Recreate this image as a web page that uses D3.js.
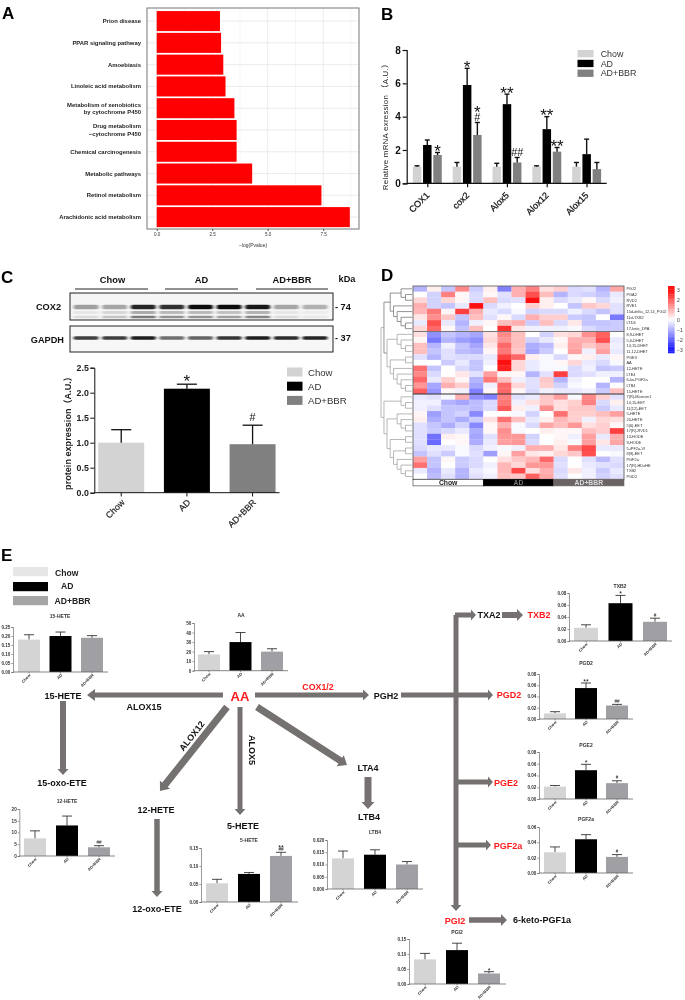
<!DOCTYPE html>
<html><head><meta charset="utf-8">
<script src="https://cdn.jsdelivr.net/npm/d3@7"></script>
<style>
html,body{margin:0;padding:0;background:#fff}
svg{display:block;filter:blur(.45px)}
text{font-family:"Liberation Sans",Arial,sans-serif}
</style></head><body>
<svg id="c" width="685" height="1000"></svg>
<script>
// ---------- DATA ----------
const groups = ["Chow","AD","AD+BBR"];
const pathways = ["Prion disease","PPAR signaling pathway","Amoebiasis","Linoleic acid metabolism",
  "Metabolism of xenobiotics|by cytochrome P450","Drug metabolism|\u2212cytochrome P450","Chemical carcinogenesis",
  "Metabolic pathways","Retinol metabolism","Arachidonic acid metabolism"];
const pathwayValues = [2.85,2.9,3.0,3.1,3.5,3.6,3.6,4.3,7.42,8.7];

const genes = ["COX1","cox2","Alox5","Alox12","Alox15"];
const mrnaChow = [1.0,1.0,1.0,1.0,1.0];
const mrnaAD   = [2.3,5.9,4.75,3.25,1.75];
const mrnaBBR  = [1.7,2.9,1.25,1.9,0.85];
const mrnaChowErr = [0.05,0.25,0.2,0.05,0.25];
const mrnaADErr   = [0.3,1.0,0.6,0.75,0.9];
const mrnaBBRErr  = [0.15,0.75,0.3,0.25,0.4];
const mrnaADMarks  = [[],["*"],["**"],["**"],[]];
const mrnaBBRMarks = [["*"],["#","*"],["##"],["**"],[]];

const proteinValues = [1.0,2.08,0.97];
const proteinErr = [0.26,0.09,0.38];
const proteinMarks = [[],["*"],["#"]];

const cox2Main  = [.35,.32,.85,.8,.95,.95,.9,.32,.28];
const cox2Lower = [.1,.2,.5,.4,.4,.35,.45,.1,.05];
const gapdhBand = [.75,.75,.88,.55,.6,.78,.88,.82,.85];

const metabolites = ["PGJ2","PGA2","RVD2","RVE1","15d-delta_12,14_PGJ2","11d-TXB2","LTD4","17-keto_DPA",
 "8,9-DHET","5,6-DHET","14,15-DHET","11,12-DHET","PGE3","AA","12-HETE","LTE4","6-ke-PGF2a","LTB4","15-HETE",
 "7(R)-Maresin1","14,15-EET","11(12)-EET","5-HETE","20-HETE","5(6)-EET","17(R)-RVD1","13-HODE","9-HODE",
 "5-iPF2a-VI","8(9)-EET","PGF2a","17(R)-HDoHE","TXB2","PGD2"];
const heat = [
[-1,.2,-.8,1.5,-.7,.2,-1.7,1,1.6,.4,.6,-.5,-.4,-1,1.1],
[0,-.6,1.6,.1,-.5,.1,-.4,1,2.2,.8,-1,-.5,-.6,-.8,-.3],
[.5,-.6,.5,.1,-.5,.8,-.5,-.4,3,.2,-.5,-.3,.1,-.5,-.2],
[1,-.6,-.8,-.3,3,-.5,-.2,0,.6,.2,0,-.8,.7,.5,-.4],
[.9,1.7,.1,2.4,1,-.3,-.5,-.1,-.6,-.5,-.5,-.2,-.5,-.8,-.4],
[.3,1.4,.7,-.8,.8,-.4,.1,-.5,1,.6,.6,-.7,-.8,0,-1.8],
[-.3,2.2,-.3,-1,-.2,.1,.8,1,-.7,.8,-.5,.3,-.8,-.8,-.7],
[.5,1.9,.1,-.8,.8,0,2.6,.3,-.2,-.2,-.2,-.1,-.5,-.7,-.7],
[.4,-1.5,-.8,-1,-1.2,.4,1.5,.8,0,-.6,.4,.5,1.4,2,0],
[.1,-1.8,-1,-1.3,-1.5,.5,1.3,.8,-.6,-.3,.1,1,1,2.2,-.3],
[.8,-1,-.2,-.8,-1.2,.3,1.9,.8,-1.1,-.9,.2,1.1,.7,1,-.2],
[.8,-.8,-.4,-.9,-1,.1,1.7,.7,-1.2,-.7,0,1.2,-.2,1.2,-.3],
[-.4,-1,-.4,-.5,-.5,-.3,2.4,1.9,.2,-.1,-.5,.1,.2,-.3,.1],
[0,0,-.7,-.3,-.8,-.2,3,.5,-.3,-.1,.1,.5,-.3,-.5,-.1],
[1.8,-.8,0,-.5,-.8,0,2.8,.5,-.3,-.1,-.1,-.5,-.2,-.8,-.7],
[1.5,-.5,0,.3,-.4,1.2,.1,.1,-1,-.4,2.4,-.5,-.4,-.2,-.2],
[1.9,-.3,.6,.1,-1,1.7,.8,-.2,-.4,.7,-1,-.2,0,0,-1],
[1.3,-1.2,1,.6,-1.2,-.2,1.9,.5,-.4,.6,-.6,-.1,0,-1,0],
[2,-1.4,.1,-.2,-1.7,.1,1.9,.1,-.5,-.2,-.3,-.3,-.2,-.7,.8],
[-.3,-.4,-.1,1,-1.5,-1.7,1.6,-.4,-.3,.7,1.2,-.1,1.5,.6,-.4],
[-.2,-.2,-1,-1.2,-.9,-.5,1.7,-.2,.4,.7,.4,.6,1.6,-.5,.2],
[-.2,-.4,-.8,-.8,-.9,-.5,2.1,.2,-.2,1.4,.4,.7,.7,-.7,-.3],
[.1,-1.3,-.8,-.6,-1.6,0,0,-.1,-.6,0,1.8,.6,.6,.8,1.2],
[.2,-1.1,-.8,-1.1,-.7,.4,1.8,.8,-.3,.2,.9,.6,-.2,.5,.4],
[-.4,-.8,-1.1,-.6,-1.6,.1,1,-.1,-.5,1.1,.8,1.3,.4,.6,.1],
[-.4,-.7,-.5,-.3,-1.1,.1,1.4,-.1,0,.2,.1,.1,.8,.6,2.4],
[-.4,-1.9,.2,.1,-1.2,-.4,1.3,1.3,-.6,0,.1,-.2,1.2,-.3,1],
[-.4,-2,0,.1,-1.1,-.3,1.2,1.3,-.5,0,.2,-.1,1.2,.3,1.1],
[-.5,-.3,-.3,-.1,-.5,-.2,-.1,-.2,1,1,.3,1.6,2.3,-.3,-.3],
[-.8,-.4,-.7,-.1,-.4,-1.3,.1,1.2,.3,.2,.5,.7,2.2,0,-.1],
[1.2,-.8,.1,-.7,-.5,0,.4,.7,.9,1.9,-.5,0,-.4,-.9,-.4],
[1.8,-.8,0,-.7,-.5,-.2,.9,.5,1.3,1.3,-.4,0,-.3,-.4,-.5],
[-.3,-1,-.3,-1,-.3,-.1,.9,2.3,.4,1,-.5,.3,-.2,-.7,-.3],
[0,-.9,-.4,-1,-.4,-.2,.8,.7,2,1.1,-.4,0,-.2,-.6,-.4]];
const dendroTop = [[0,[1,2]],[3,[4,[5,[6,7]]]]];
const dendroMid = [[8,[9,[10,11]]],[[12,13],[14,[15,[16,[17,18]]]]]];
const dendroLow = [[19,[20,21]],[[22,[23,[24,25]]],[[26,27],[[28,29],[30,[31,[32,33]]]]]]];
const dendrogram = [[dendroTop,dendroMid],dendroLow];
const colorTicks = [3,2,1,0,-1,-2,-3];

const hete15 = {title:"15-HETE",values:[.18,.20,.19],errs:[.027,.022,.012],ticks:[0,.05,.10,.15,.20,.25],fmt:".2f",marks:[[],[],[]]};
const aaChart = {title:"AA",values:[17,30,20],errs:[3,10,3],ticks:[0,10,20,30,40,50],fmt:"d",marks:[[],[],[]]};
const hete12 = {title:"12-HETE",values:[7.5,13,3.7],errs:[3.2,4,.7],ticks:[0,5,10,15,20],fmt:"d",marks:[[],[],["##"]]};
const hete5  = {title:"5-HETE",values:[.052,.078,.128],errs:[.011,.004,.01],ticks:[0,.05,.10,.15],fmt:".2f",marks:[[],[],["##","**"]]};
const ltb4   = {title:"LTB4",values:[.0125,.014,.010],errs:[.003,.002,.0012],ticks:[0,.005,.01,.015,.02],fmt:".3f",marks:[[],[],[]]};
const txb2   = {title:"TXB2",values:[.022,.063,.032],errs:[.005,.013,.006],ticks:[0,.02,.04,.06,.08],fmt:".2f",marks:[[],["*"],["#"]]};
const pgd2   = {title:"PGD2",values:[.01,.055,.024],errs:[.003,.009,.002],ticks:[0,.02,.04,.06,.08],fmt:".2f",marks:[[],["**"],["##"]]};
const pge2   = {title:"PGE2",values:[.021,.049,.027],errs:[.002,.01,.004],ticks:[0,.02,.04,.06,.08],fmt:".2f",marks:[[],["*"],["#"]]};
const pgf2a  = {title:"PGF2a",values:[.027,.044,.021],errs:[.007,.006,.003],ticks:[0,.02,.04,.06],fmt:".2f",marks:[[],[],["#"]]};
const pgi2   = {title:"PGI2",values:[.082,.113,.035],errs:[.02,.023,.006],ticks:[0,.05,.10,.15],fmt:".2f",marks:[[],[],["*"]]};

// ---------- LAYOUT ----------
const svg = d3.select("#c");
const colors3 = ["#d3d3d3","#000000","#808080"];
const colorsE = ["#d4d4d4","#000000","#a09fa3"];
const GREY="#767171";

function txt(g,x,y,s,o={}){
  const t=g.append("text").attr("x",x).attr("y",y).text(s)
    .attr("font-size",o.size||9).attr("font-weight",o.bold===false?"normal":"bold")
    .attr("fill",o.fill||"#111").attr("text-anchor",o.anchor||"middle");
  if(o.center!==false) t.attr("dominant-baseline","central");
  if(o.rot!==undefined) t.attr("transform",`rotate(${o.rot} ${x} ${y})`);
  return t;
}
// Significance marks: all lines of one bar share one text element
function marks(g,x,yTop,lines,o){
  if(!lines.length) return;
  const t=g.append("text").attr("text-anchor","middle").attr("fill","#111");
  let c=yTop-o.gap;
  lines.forEach(m=>{
    const star=m[0]==="*", sz=star?o.star:o.hash;
    t.append("tspan").attr("x",x).attr("y",c+(star?.58:.35)*sz).attr("font-size",sz).text(m);
    c-=o.step;
  });
}

// panel letters
[["A",2,13],["B",381,14],["C",1,277],["D",381,275],["E",1,555]].forEach(d=>
  txt(svg,d[1],d[2],d[0],{size:17,anchor:"start",fill:"#000"}));

// ---------- Panel A
(function(){
  const g=svg.append("g");
  const x=d3.scaleLinear().domain([0,2.5]).range([156.7,212.2]);
  const y=d3.scaleBand().domain(pathways).range([10.2,228]).paddingInner(.08).paddingOuter(.04);
  const L=147,R=359,T=8,B=229;
  [1.25,3.75,6.25,8.75].forEach(v=>g.append("line").attr("x1",x(v)).attr("x2",x(v)).attr("y1",T).attr("y2",B).attr("stroke","#f2f2f2").attr("stroke-width",.6));
  [0,2.5,5,7.5].forEach(v=>g.append("line").attr("x1",x(v)).attr("x2",x(v)).attr("y1",T).attr("y2",B).attr("stroke","#e6e6e6").attr("stroke-width",.8));
  pathways.forEach(p=>g.append("line").attr("x1",L).attr("x2",R).attr("y1",y(p)+y.bandwidth()/2).attr("y2",y(p)+y.bandwidth()/2).attr("stroke","#e6e6e6").attr("stroke-width",.8));
  g.selectAll(".b").data(pathways).join("rect").attr("x",x(0)).attr("y",d=>y(d))
    .attr("width",(d,i)=>x(pathwayValues[i])-x(0)).attr("height",y.bandwidth()).attr("fill","#ff0000");
  g.append("rect").attr("x",L).attr("y",T).attr("width",R-L).attr("height",B-T).attr("fill","none").attr("stroke","#777").attr("stroke-width",1);
  pathways.forEach(p=>{
    const c=y(p)+y.bandwidth()/2, parts=p.split("|");
    parts.forEach((s,i)=>txt(g,141,c+(parts.length>1?(i-.5)*7.4:0),s,{size:5.9,anchor:"end",fill:"#222"}));
  });
  const axis=d3.axisBottom(x).tickValues([0,2.5,5,7.5]).tickFormat(d3.format(".1f")).tickSize(2).tickPadding(2);
  const a=g.append("g").attr("transform",`translate(0,${B})`).call(axis);
  a.select(".domain").remove();
  a.selectAll("line").attr("stroke","#555");
  a.selectAll("text").attr("font-size",4.6).attr("fill","#333");
  txt(g,253,245,"\u2212log(Pvalue)",{size:5,bold:false,fill:"#333"});
})();

// ---------- Panel B
(function(){
  const g=svg.append("g");
  const x0=d3.scaleBand().domain(genes).range([407.5,606.7]).paddingInner(0).paddingOuter(0);
  const x1=d3.scaleBand().domain(groups).range([3.6,36]).padding(.17);
  const y=d3.scaleLinear().domain([0,8]).range([183.3,50]);
  const series=[[mrnaChow,mrnaChowErr],[mrnaAD,mrnaADErr],[mrnaBBR,mrnaBBRErr]];
  series.forEach((s,k)=>{
    genes.forEach((c,i)=>{
      const gx=x0(c)+x1(groups[k]), w=x1.bandwidth(), cx=gx+w/2;
      const top=y(s[0][i]+s[1][i]);
      g.append("rect").attr("x",gx).attr("y",y(s[0][i])).attr("width",w).attr("height",y(0)-y(s[0][i])).attr("fill",colors3[k]);
      g.append("line").attr("x1",cx).attr("x2",cx).attr("y1",y(s[0][i])).attr("y2",top).attr("stroke","#111").attr("stroke-width",1.4);
      g.append("line").attr("x1",cx-2.5).attr("x2",cx+2.5).attr("y1",top).attr("y2",top).attr("stroke","#111").attr("stroke-width",1.4);
      const m=k===1?mrnaADMarks[i]:k===2?mrnaBBRMarks[i]:[];
      marks(g,cx,top,m,{gap:5.5,step:9,star:17,hash:10.8});
    });
  });
  const ya=d3.axisLeft(y).tickValues([0,2,4,6,8]).tickSize(4).tickPadding(2);
  const a=g.append("g").attr("transform","translate(406.7,0)").call(ya);
  a.selectAll("path,line").attr("stroke","#111").attr("stroke-width",1.2);
  a.selectAll("text").attr("font-size",10).attr("font-weight","bold").attr("fill","#111");
  const xa=d3.axisBottom(d3.scalePoint().domain(genes).range([427.3,586.5])).tickSize(4).tickFormat("");
  const b=g.append("g").attr("transform","translate(0,183.3)").call(xa);
  b.select(".domain").remove();
  b.selectAll("line").attr("stroke","#111").attr("stroke-width",1.2);
  g.append("line").attr("x1",406.7).attr("x2",606.7).attr("y1",183.3).attr("y2",183.3).attr("stroke","#111").attr("stroke-width",1.2);
  const pos=d3.scalePoint().domain(genes).range([430,589]);
  genes.forEach(c=>txt(g,pos(c),196,c,{size:9,bold:false,anchor:"end",rot:-45,center:false,fill:"#111"}).attr("stroke","#111").attr("stroke-width",.25));
  txt(g,385,125,"Relative mRNA exression \uFF08A.U.\uFF09",{size:7.9,bold:false,rot:-90,fill:"#222"}).attr("letter-spacing",.25).style("font-family",'"Liberation Sans","Noto Sans CJK SC",sans-serif');
  groups.forEach((n,i)=>{
    g.append("rect").attr("x",577.5).attr("y",50+i*9.8).attr("width",16).attr("height",7.3).attr("fill",colors3[i]);
    txt(g,600.7,53.7+i*9.8,n,{size:8.9,bold:false,anchor:"start",fill:"#333"});
  });
})();

// ---------- Panel C
(function(){
  const g=svg.append("g");
  const defs=svg.append("defs");
  const f=defs.append("filter").attr("id","bandblur").attr("x","-30%").attr("y","-100%").attr("width","160%").attr("height","300%");
  f.append("feGaussianBlur").attr("stdDeviation","1.5 .7");
  groups.forEach((n,i)=>{
    const s=[[75,148],[165,238],[256,328]][i];
    txt(g,(s[0]+s[1])/2+(i==0?1:0),280,n,{size:9.3,fill:"#111"});
    g.append("line").attr("x1",s[0]).attr("x2",s[1]).attr("y1",289).attr("y2",289).attr("stroke","#222").attr("stroke-width",1);
  });
  txt(g,347,279,"kDa",{size:9.2,fill:"#111"});
  txt(g,61,307,"COX2",{size:9.2,anchor:"end"});
  txt(g,64,340,"GAPDH",{size:9.2,anchor:"end"});
  txt(g,335,307,"- 74",{size:9.2,anchor:"start"});
  txt(g,335,338,"- 37",{size:9.2,anchor:"start"});
  const lanes=d3.scaleBand().domain(d3.range(9)).range([70,331]).padding(.12);
  const blot=(y,h,bg)=>g.append("rect").attr("x",70).attr("y",y).attr("width",263).attr("height",h).attr("fill",bg);
  blot(293,27,"#f5f5f5"); blot(326,26,"#f7f7f7");
  const bands=g.append("g").attr("filter","url(#bandblur)");
  const draw=(arr,yc,h)=>arr.forEach((v,i)=>bands.append("rect").attr("x",lanes(i)).attr("y",yc-h/2).attr("width",lanes.bandwidth()).attr("height",h).attr("rx",h/2).attr("fill","#000").attr("opacity",v));
  draw(cox2Main,307,4.5); draw(cox2Lower,317,2.4); draw(cox2Lower.map(d=>d*.6),312.5,2.8); draw(gapdhBand,338,3.4);
  [[293,27],[326,26]].forEach(d=>g.append("rect").attr("x",70).attr("y",d[0]).attr("width",263).attr("height",d[1]).attr("fill","none").attr("stroke","#222").attr("stroke-width",1));
  const x=d3.scaleBand().domain(groups).range([94.3,279.5]).paddingInner(.3).paddingOuter(.06);
  const y=d3.scaleLinear().domain([0,2.5]).range([492.7,367.7]);
  groups.forEach((n,i)=>{
    const w=x.bandwidth(),cx=x(n)+w/2,top=y(proteinValues[i]+proteinErr[i]);
    g.append("rect").attr("x",x(n)).attr("y",y(proteinValues[i])).attr("width",w).attr("height",y(0)-y(proteinValues[i])).attr("fill",colors3[i]);
    g.append("line").attr("x1",cx).attr("x2",cx).attr("y1",y(proteinValues[i])).attr("y2",top).attr("stroke","#111").attr("stroke-width",1.3);
    g.append("line").attr("x1",cx-10).attr("x2",cx+10).attr("y1",top).attr("y2",top).attr("stroke","#111").attr("stroke-width",1.3);
    marks(g,cx,top,proteinMarks[i],{gap:7.5,step:9,star:17,hash:10.8});
    g.append("line").attr("x1",cx).attr("x2",cx).attr("y1",492.7).attr("y2",496.5).attr("stroke","#111").attr("stroke-width",1);
    txt(g,cx+4,503,n,{size:8.8,anchor:"end",rot:-45,center:false,fill:"#222",bold:false}).attr("stroke","#222").attr("stroke-width",.2);
  });
  const a=g.append("g").attr("transform","translate(94.3,0)").call(d3.axisLeft(y).tickValues([0,.5,1,1.5,2,2.5]).tickFormat(d3.format(".1f")).tickSize(4).tickPadding(1.5));
  a.selectAll("path,line").attr("stroke","#111");
  a.selectAll("text").attr("font-size",8.8).attr("font-weight","bold").attr("fill","#222");
  g.append("line").attr("x1",94.3).attr("x2",279.5).attr("y1",492.7).attr("y2",492.7).attr("stroke","#111");
  txt(g,68,431,"protein expression\uFF08A.U.\uFF09",{size:9.1,rot:-90,fill:"#222"}).style("font-family",'"Liberation Sans","Noto Sans CJK SC",sans-serif');
  groups.forEach((n,i)=>{
    g.append("rect").attr("x",287).attr("y",367.5+i*14.2).attr("width",15.5).attr("height",9).attr("fill",colors3[i]);
    txt(g,308,372+i*14.2,n,{size:9.6,bold:false,anchor:"start",fill:"#333"});
  });
})();

// ---------- Panel D
(function(){
  const g=svg.append("g");
  const X0=413,X1=624,Y0=286,Y1=479.3;
  const x=d3.scaleBand().domain(d3.range(15)).range([X0,X1]);
  const y=d3.scaleBand().domain(d3.range(metabolites.length)).range([Y0,Y1]);
  const col=d3.scaleLinear().domain([-3,0,3]).range(["#2020ff","#ffffff","#ff1010"]);
  g.selectAll("g.r").data(heat).join("g").attr("transform",(d,i)=>`translate(0,${y(i)})`)
    .selectAll("rect").data(d=>d).join("rect").attr("x",(d,j)=>x(j)).attr("width",x.bandwidth()+.2).attr("height",y.bandwidth()+.2).attr("fill",d=>col(d));
  [8,19].forEach(r=>g.append("line").attr("x1",X0).attr("x2",X1).attr("y1",y(r)).attr("y2",y(r)).attr("stroke",r==8?"#777":"#333").attr("stroke-width",1.1));
  g.append("rect").attr("x",X0).attr("y",Y0).attr("width",X1-X0).attr("height",Y1-Y0).attr("fill","none").attr("stroke","#666").attr("stroke-width",.9);
  metabolites.forEach((m,i)=>txt(g,626.5,y(i)+y.bandwidth()/2,m,{size:3.9,bold:false,anchor:"start",fill:"#333"}));
  const ann=[[0,5,"#ffffff","#222"],[5,10,"#000000","#777"],[10,15,"#6b6464","#ddd"]];
  ann.forEach((a,i)=>{
    const l=x(a[0]),r=a[1]==15?X1:x(a[1]);
    g.append("rect").attr("x",l).attr("y",Y1).attr("width",r-l).attr("height",6.6).attr("fill",a[2]).attr("stroke",i==0?"#333":a[2]).attr("stroke-width",.6);
    txt(g,(l+r)/2,Y1+3.4,groups[i],{size:6.8,fill:a[3]});
  });
  const root=d3.hierarchy(dendrogram,d=>Array.isArray(d)?d:null);
  const h=d3.scalePow().exponent(.75).domain([0,root.height]).range([412,381]);
  root.eachAfter(n=>{
    if(n.children) n.py=d3.mean([n.children[0].py,n.children[n.children.length-1].py]);
    else n.py=y(n.data)+y.bandwidth()/2;
    n.px=n.children?h(n.height):412;
  });
  const dg=g.append("g").attr("fill","none").attr("stroke-width",.7);
  root.descendants().filter(n=>n.children).forEach(n=>{
    const stroke=n.py<335?"#666":"#999";
    n.children.forEach(c=>dg.append("path").attr("stroke",stroke).attr("d",`M${n.px},${n.py}V${c.py}H${c.px}`));
  });
  const cy=d3.scaleLinear().domain([3,-3]).range([290,350]);
  const n=40,ss=d3.range(n).map(i=>3.4-6.8*i/(n-1));
  g.selectAll(".cb").data(ss).join("rect").attr("x",668).attr("width",6.6).attr("y",(d,i)=>286+i*67/n).attr("height",67/n+.3).attr("fill",d=>col(Math.max(-3,Math.min(3,d))));
  colorTicks.forEach(t=>txt(g,677,cy(t),t<0?"\u2212"+(-t):t,{size:5,bold:false,anchor:"start",fill:"#333"}));
})();

// ---------- Panel E: pathway
const arrows=[
 [223,695,87,695,5,12,8],[63,701,63,775,6,11,6],[255,695,369,695,5,11,6],
 [227,707,160,791,7,13,8],[240,707,240,815,5,11,6],[257,707,347,765,7,13,8],
 [368,777,368,809,7,13,7],[157,819,157,897,5.5,11,6],[401,695,493,695,5,11,5],
 [456,615,456,911,5,11,6],[455,615,476,615,5,11,5],[502,615,523,615,6,12,6],
 [457,782,493,782,5,11,5],[457,845,491,845,5,11,5],[469,920,507,920,5.5,12,6]];
const diagram=svg.append("g");
arrows.forEach(a=>{
  const [x1,y1,x2,y2,w,hw,hl]=a;
  const ang=Math.atan2(y2-y1,x2-x1)*180/Math.PI, len=Math.hypot(x2-x1,y2-y1);
  const line=d3.line();
  diagram.append("path").attr("fill",GREY).attr("transform",`translate(${x1},${y1}) rotate(${ang})`)
    .attr("d",line([[0,-w/2],[len-hl,-w/2],[len-hl,-hw/2],[len,0],[len-hl,hw/2],[len-hl,w/2],[0,w/2]])+"Z");
});
const nodes=[
 ["AA",240,696,13,"#ff1a1a",0],["COX1/2",318,687,8.8,"#ff1a1a",0],["PGH2",386,696,9,"#111",0],
 ["15-HETE",63,696,9,"#111",0],["ALOX15",144,707,9,"#111",0],["15-oxo-ETE",62,783,9,"#111",0],
 ["ALOX12",192,736,9,"#111",-52],["ALOX5",252,750,9,"#111",90],["12-HETE",156,810,9,"#111",0],
 ["12-oxo-ETE",157,909,9,"#111",0],["5-HETE",243,826,9,"#111",0],["LTA4",368,768,9,"#111",0],
 ["LTB4",369,817,9,"#111",0],["TXA2",489,615,9,"#111",0],["TXB2",539,615,9,"#ff1a1a",0],
 ["PGD2",509,695,9,"#ff1a1a",0],["PGE2",506,783,9,"#ff1a1a",0],["PGF2a",508,846,9,"#ff1a1a",0],
 ["PGI2",455,921,9,"#ff1a1a",0],["6-keto-PGF1a",542,920,9,"#111",0]];
nodes.forEach(n=>txt(diagram,n[1],n[2],n[0],{size:n[3],fill:n[4],rot:n[5]||undefined}));
[["Chow",55],["AD",61],["AD+BBR",54.5]].forEach((d,i)=>{
  const yy=[567,582,596][i];
  diagram.append("rect").attr("x",13).attr("y",yy).attr("width",35).attr("height",9.2).attr("fill",["#e6e6e6","#000","#a5a5a5"][i]);
  txt(diagram,d[1],[573,586,601][i],d[0],{size:8.6,anchor:"start",fill:"#222"});
});

// ---------- Panel E: small charts
function small(d,p){
  const g=svg.append("g");
  const y=d3.scaleLinear().domain([0,d.ticks[d.ticks.length-1]]).range([p.y0,p.yTop]);
  const x=d3.scalePoint().domain(groups).range(p.cx);
  const w=p.w||22;
  groups.forEach((n,i)=>{
    const v=d.values[i],top=y(v+d.errs[i]),cx=x(n);
    g.append("line").attr("x1",cx).attr("x2",cx).attr("y1",y(v)).attr("y2",top).attr("stroke","#333").attr("stroke-width",.9);
    g.append("line").attr("x1",cx-5).attr("x2",cx+5).attr("y1",top).attr("y2",top).attr("stroke","#333").attr("stroke-width",.9);
    g.append("rect").attr("x",cx-w/2).attr("y",y(v)).attr("width",w).attr("height",y(0)-y(v)).attr("fill",colorsE[i]);
    marks(g,cx,top,d.marks[i],{gap:3,step:3.6,star:7,hash:4.6});
    g.append("line").attr("x1",cx).attr("x2",cx).attr("y1",p.y0).attr("y2",p.y0+1.5).attr("stroke","#555").attr("stroke-width",.6);
    txt(g,cx+2,p.y0+3.5,n,{size:4,anchor:"end",rot:-45,center:false,fill:"#333"});
  });
  const a=g.append("g").attr("transform",`translate(${p.x0},0)`).call(d3.axisLeft(y).tickValues(d.ticks).tickFormat(d3.format(d.fmt)).tickSize(1.6).tickPadding(1));
  a.selectAll("path,line").attr("stroke","#555").attr("stroke-width",.6);
  a.selectAll("text").attr("font-size",4.6).attr("font-weight","bold").attr("fill","#333");
  g.append("line").attr("x1",p.x0).attr("x2",p.x1).attr("y1",p.y0).attr("y2",p.y0).attr("stroke","#666").attr("stroke-width",.8);
  txt(g,p.tx,p.ty,d.title,{size:5,fill:"#333"});
}
small(hete15,{y0:672,yTop:627,x0:13,x1:108,cx:[29,92],tx:60,ty:616});
small(aaChart,{y0:670.7,yTop:623,x0:194,x1:288,cx:[209,272],tx:241,ty:615});
small(hete12,{y0:856,yTop:809,x0:19.3,x1:115,cx:[35,99],tx:67,ty:801});
small(hete5,{y0:902,yTop:848,x0:201,x1:298,cx:[217,281],tx:249,ty:840});
small(ltb4,{y0:889,yTop:840,x0:327,x1:423,cx:[343,407],tx:375,ty:832});
small(txb2,{y0:641,yTop:593,x0:569,x1:672,cx:[586,655],w:24,tx:620,ty:586});
small(pgd2,{y0:719,yTop:674,x0:539,x1:633,cx:[555,617],tx:586,ty:663});
small(pge2,{y0:799,yTop:752,x0:539,x1:633,cx:[555,617],tx:586,ty:745});
small(pgf2a,{y0:873,yTop:827,x0:539,x1:633,cx:[555,617],tx:586,ty:819});
small(pgi2,{y0:984,yTop:939,x0:409,x1:506,cx:[425,489],tx:457,ty:932});
</script></body></html>
